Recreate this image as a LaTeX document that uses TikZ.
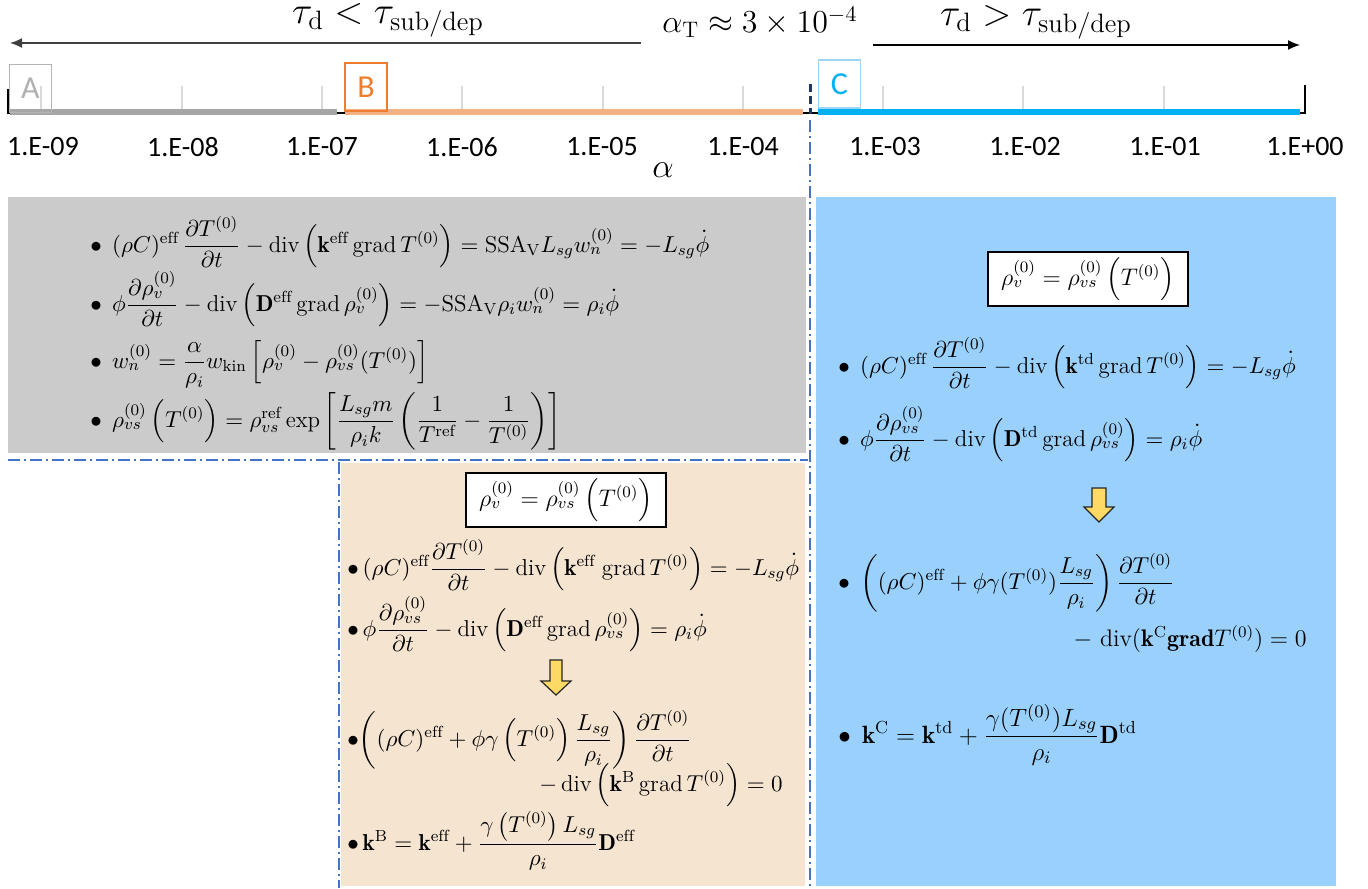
\RequirePackage{fix-cm}
\documentclass[tikz,border=0pt]{standalone}
\usepackage{amsmath}
\usepackage{fontspec}
\newfontfamily\calib{Carlito}
\usetikzlibrary{arrows.meta}
\definecolor{graybox}{HTML}{CBCBCB}
\definecolor{orangebox}{HTML}{F5E4D0}
\definecolor{bluebox}{HTML}{99D1FC}
\definecolor{bargray}{HTML}{A6A6A6}
\definecolor{barorange}{HTML}{F4B183}
\definecolor{barblue}{HTML}{00B0F0}
\definecolor{ddblue}{HTML}{4472C4}
\definecolor{navy}{HTML}{203864}
\definecolor{gridgray}{HTML}{D9D9D9}
\definecolor{boxA}{HTML}{B4B4B4}
\definecolor{textA}{HTML}{B0B0B0}
\definecolor{orangeC}{HTML}{ED7D31}
\definecolor{boxC}{HTML}{9DD5F5}
\definecolor{arrowyellow}{HTML}{FFD966}
\begin{document}
\begin{tikzpicture}[x=0.5pt,y=-0.5pt,
  eq/.style={anchor=base west, inner sep=0pt, font=\fontsize{11.5}{14}\selectfont},
  eqr/.style={anchor=base east, inner sep=0pt, font=\fontsize{11.5}{14}\selectfont},
  lab/.style={inner sep=0pt, font=\calib\fontsize{14}{16}\selectfont},
  taum/.style={anchor=base, inner sep=0pt, font=\fontsize{19}{22}\selectfont},
  bigm/.style={inner sep=0pt, font=\fontsize{16}{18}\selectfont},
  ddline/.style={draw=ddblue, line width=1pt, dash pattern=on 6pt off 2pt on 1pt off 2pt},
  framebox/.style={draw=black, fill=white, line width=0.8pt, minimum width=100pt, minimum height=27pt, inner sep=0pt, font=\fontsize{12}{14}\selectfont},
  letterbox/.style={draw, line width=0.6pt, minimum width=21pt, minimum height=24pt, inner sep=0pt, font=\calib\fontsize{16}{18}\selectfont},
  yarrow/.style={fill=arrowyellow, draw=black!85, line width=0.6pt, line join=miter}
]
\useasboundingbox (0,0) rectangle (1368,888);

% ---------- top labels and arrows
\node[taum] (tl) at (388,24) {$\tau_{\mathrm{d}}<\tau_{\mathrm{sub/dep}}$};
\node[taum] (tr) at (1036,26) {$\tau_{\mathrm{d}}>\tau_{\mathrm{sub/dep}}$};
\node[bigm, anchor=base] (aT) at (760,33) {$\alpha_{\mathrm{T}}\approx 3\times 10^{-4}$};
\coordinate (la1) at (641,43);
\coordinate (la2) at (10,43);
\coordinate (ra1) at (873,45);
\coordinate (ra2) at (1300,45);
\draw[black!75, line width=0.75pt, -{Latex[length=6pt,width=5pt]}] (la1) -- (la2);
\draw[black, line width=0.75pt, -{Latex[length=6pt,width=5pt]}] (ra1) -- (ra2);

% ---------- axis
\foreach \x in {41,182,322,462,603,743,883,1023,1164}
  \draw[gridgray, line width=0.6pt] (\x,86) -- (\x,110);
\draw[black, line width=0.8pt] (8,89) -- (8,113) -- (1305,113) -- (1305,85);
\draw[bargray, line width=3pt] (10,112) -- (337,112);
\draw[barorange, line width=3pt] (345,112) -- (803,112);
\draw[barblue, line width=3pt] (818,112) -- (1300,112);
\node[letterbox, draw=boxA, text=textA] (bA) at (30.5,88.5) {A};
\node[letterbox, draw=orangeC, text=orangeC] (bB) at (366,87) {B};
\node[letterbox, draw=boxC, text=barblue] (bC) at (839.5,84) {C};
\draw[navy, line width=1.5pt, dash pattern=on 4pt off 2pt] (810,84) -- (810,114);

\foreach \x/\t [count=\i] in {43/1.E-09,183/1.E-08,322/1.E-07,462/1.E-06,602/1.E-05,743/1.E-04,885/1.E-03,1025/1.E-02,1165/1.E-01,1305/1.E+00}
  \node[lab] (lab\i) at (\x,147) {\t};
\node[bigm, font=\fontsize{17}{20}\selectfont] (alpha) at (663,170) {$\alpha$};

% ---------- boxes
\fill[graybox] (8,197) rectangle (806,453);
\fill[orangebox] (341,463) rectangle (805,886);
\fill[bluebox] (816,197) rectangle (1336,886);
\draw[ddline] (810,120) -- (810,888);
\draw[ddline] (8,460) -- (808,460);
\draw[ddline] (339,462) -- (339,888);

% ---------- gray box equations
\node[eq] (g1) at (90,252) {$\bullet\;\, (\rho C)^{\mathrm{eff}}\,\dfrac{\partial T^{(0)}}{\partial t}-\mathrm{div}\,\Bigl(\mathbf{k}^{\mathrm{eff}}\,\mathrm{grad}\,T^{(0)}\Bigr)=\mathrm{SSA}_{\mathrm{V}}L_{sg}w_n^{(0)}=-L_{sg}\dot{\phi}$};
\node[eq] (g2) at (90,311) {$\bullet\;\, \phi\dfrac{\partial \rho_v^{(0)}}{\partial t}-\mathrm{div}\,\Bigl(\mathbf{D}^{\mathrm{eff}}\,\mathrm{grad}\,\rho_v^{(0)}\Bigr)=-\mathrm{SSA}_{\mathrm{V}}\rho_i w_n^{(0)}=\rho_i\dot{\phi}$};
\node[eq] (g3) at (90,368) {$\bullet\;\, w_n^{(0)}=\dfrac{\alpha}{\rho_i}w_{\mathrm{kin}}\,\Bigl[\rho_v^{(0)}-\rho_{vs}^{(0)}(T^{(0)})\Bigr]$};
\node[eq] (g4) at (90,427) {$\bullet\;\, \rho_{vs}^{(0)}\,\Bigl(T^{(0)}\Bigr)=\rho_{vs}^{\mathrm{ref}}\exp\left[\dfrac{L_{sg}m}{\rho_i k}\left(\dfrac{1}{T^{\mathrm{ref}}}-\dfrac{1}{T^{(0)}}\right)\right]$};

% ---------- orange box
\node[framebox] (fB) at (566,500) {$\rho_v^{(0)}=\rho_{vs}^{(0)}\,\Bigl(T^{(0)}\Bigr)$};
\node[eq] (o1) at (347,575) {$\bullet\, (\rho C)^{\mathrm{eff}}\dfrac{\partial T^{(0)}}{\partial t}-\mathrm{div}\,\Bigl(\mathbf{k}^{\mathrm{eff}}\;\mathrm{grad}\,T^{(0)}\Bigr)=-L_{sg}\dot{\phi}$};
\node[eq] (o2) at (347,636) {$\bullet\, \phi\dfrac{\partial \rho_{vs}^{(0)}}{\partial t}-\mathrm{div}\,\Bigl(\mathbf{D}^{\mathrm{eff}}\,\mathrm{grad}\,\rho_{vs}^{(0)}\Bigr)=\rho_i\dot{\phi}$};
\filldraw[yarrow] (550,660) -- (562,660) -- (562,681) -- (571,681) -- (556,695) -- (541,681) -- (550,681) -- cycle;
\node[eq] (o3) at (347,746) {$\bullet\biggl((\rho C)^{\mathrm{eff}}+\phi\gamma\,\Bigl(T^{(0)}\Bigr)\,\dfrac{L_{sg}}{\rho_i}\biggr)\,\dfrac{\partial T^{(0)}}{\partial t}$};
\node[eqr] (o4) at (783,791) {$-\,\mathrm{div}\,\Bigl(\mathbf{k}^{\mathrm{B}}\,\mathrm{grad}\,T^{(0)}\Bigr)=0$};
\node[eq] (o5) at (347,850) {$\bullet\, \mathbf{k}^{\mathrm{B}}=\mathbf{k}^{\mathrm{eff}}+\dfrac{\gamma\left(T^{(0)}\right)L_{sg}}{\rho_i}\mathbf{D}^{\mathrm{eff}}$};

% ---------- blue box
\node[framebox] (fC) at (1088,279) {$\rho_v^{(0)}=\rho_{vs}^{(0)}\,\Bigl(T^{(0)}\Bigr)$};
\node[eq] (c1) at (838,373) {$\bullet\;\, (\rho C)^{\mathrm{eff}}\,\dfrac{\partial T^{(0)}}{\partial t}-\mathrm{div}\,\Bigl(\mathbf{k}^{\mathrm{td}}\,\mathrm{grad}\,T^{(0)}\Bigr)=-L_{sg}\dot{\phi}$};
\node[eq] (c2) at (838,446) {$\bullet\;\, \phi\dfrac{\partial \rho_{vs}^{(0)}}{\partial t}-\mathrm{div}\,\Bigl(\mathbf{D}^{\mathrm{td}}\,\mathrm{grad}\,\rho_{vs}^{(0)}\Bigr)=\rho_i\dot{\phi}$};
\filldraw[yarrow] (1092,488) -- (1106,488) -- (1106,507) -- (1114,507) -- (1099,522) -- (1084,507) -- (1092,507) -- cycle;
\node[eq] (c3) at (838,589) {$\bullet\;\, \biggl((\rho C)^{\mathrm{eff}}+\phi\gamma(T^{(0)})\dfrac{L_{sg}}{\rho_i}\biggr)\,\dfrac{\partial T^{(0)}}{\partial t}$};
\node[eqr, font=\fontsize{12}{14}\selectfont] (c4) at (1307,646) {$-\ \mathrm{div}(\mathbf{k}^{\mathrm{C}}\mathbf{grad}T^{(0)})=0$};
\node[eq, font=\fontsize{12.5}{15}\selectfont] (c5) at (838,743) {$\bullet\;\, \mathbf{k}^{\mathrm{C}}=\mathbf{k}^{\mathrm{td}}+\dfrac{\gamma(T^{(0)})L_{sg}}{\rho_i}\mathbf{D}^{\mathrm{td}}$};
\end{tikzpicture}
\end{document}
